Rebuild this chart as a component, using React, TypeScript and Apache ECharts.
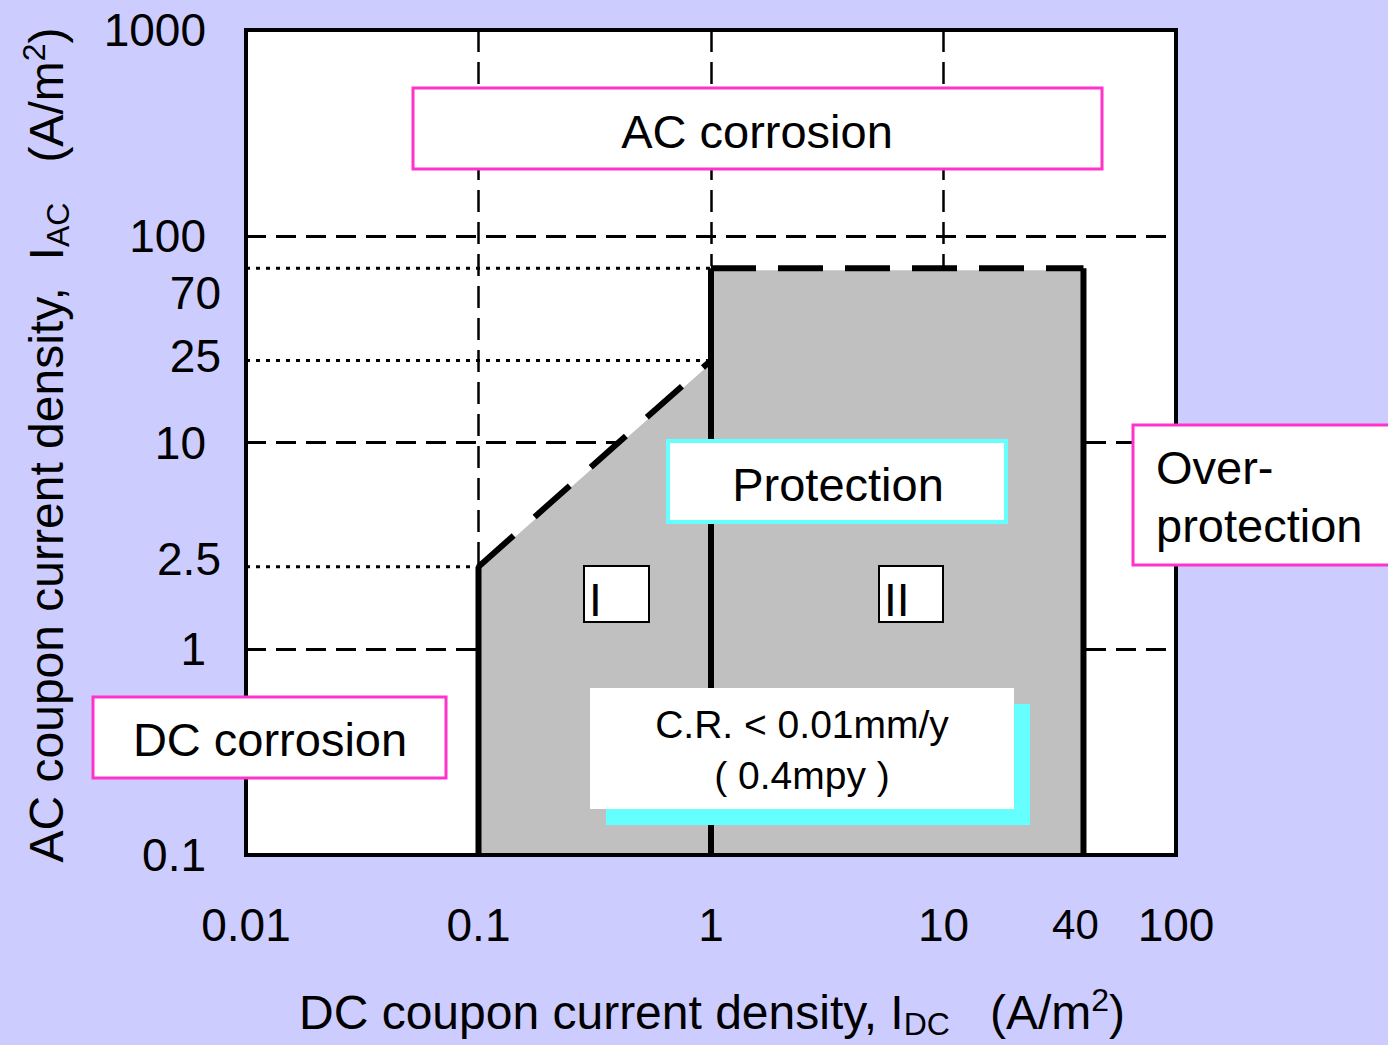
import React, { useEffect, useRef } from 'react';
import * as echarts from 'echarts';

// Axis ranges and tick labels
const xRange = [0.01, 100];
const yRange = [0.1, 1000];
const xExtraTicks = [40];
const yExtraTicks = [70, 25, 2.5];

// Protection regions (DC density, AC density)
const regionI = [[0.1, 0.1], [0.1, 2.5], [1, 25], [1, 0.1]];
const regionII = [[1, 0.1], [1, 70], [40, 70], [40, 0.1]];

// Region boundaries
const solidEdges = [
  [[0.1, 0.1], [0.1, 2.5]],
  [[1, 0.1], [1, 70]],
  [[40, 0.1], [40, 70]],
];
const diagonalEdge = [[0.1, 2.5], [1, 25]];
const topEdge = [[1, 70], [40, 70]];

// Dotted reference lines
const dottedRefs = [
  [[0.01, 70], [1, 70]],
  [[0.01, 25], [1, 25]],
  [[0.01, 2.5], [0.1, 2.5]],
];

const FONT = '"Liberation Sans", Arial, Helvetica, sans-serif';

const fmt = (v: number) => String(+(+v).toPrecision(6));

export default function App() {
  const ref = useRef<HTMLDivElement>(null);
  useEffect(() => {
    if (!ref.current) return;
    const chart = echarts.init(ref.current, null, { renderer: 'svg' });
    const regions = [regionI, regionII];

    const lineSeries = (data: number[][], width: number, type: any, z = 3) => ({
      type: 'line',
      data,
      symbol: 'none',
      silent: true,
      clip: false,
      z,
      lineStyle: { color: '#000', width, type, cap: 'butt' },
    });

    const yExtraOffsets: Record<string, number[]> = { '70': [0, 25], '25': [0, -4], '2.5': [0, -8] };

    const titleRich = {
      n: { fontSize: 48, fontFamily: FONT, color: '#000', lineHeight: 56 },
      sub: { fontSize: 32, fontFamily: FONT, color: '#000', lineHeight: 30, verticalAlign: 'bottom' },
      sup: { fontSize: 32, fontFamily: FONT, color: '#000', lineHeight: 30, verticalAlign: 'top' },
    };

    const option: any = {
      animation: false,
      backgroundColor: '#CCCCFF',
      grid: {
        left: 246,
        top: 30,
        width: 930,
        height: 825,
        show: true,
        backgroundColor: '#FFFFFF',
        borderWidth: 0,
      },
      xAxis: {
        type: 'log',
        logBase: 10,
        min: xRange[0],
        max: xRange[1],
        axisLine: { show: false },
        axisTick: { show: true, inside: true, length: 7, lineStyle: { color: '#000', width: 2 } },
        axisLabel: { fontSize: 46, color: '#000', fontFamily: FONT, margin: 47, formatter: fmt },
        splitLine: { show: true, lineStyle: { color: '#000', width: 2.5, type: [22, 10] } },
        minorTick: { show: false },
      },
      yAxis: {
        type: 'log',
        logBase: 10,
        min: yRange[0],
        max: yRange[1],
        axisLine: { show: false },
        axisTick: { show: true, inside: true, length: 7, lineStyle: { color: '#000', width: 2 } },
        axisLabel: { fontSize: 46, color: '#000', fontFamily: FONT, margin: 40, formatter: fmt },
        splitLine: { show: true, lineStyle: { color: '#000', width: 3, type: [20, 10] } },
      },
      series: [
        ...dottedRefs.map((d) => lineSeries(d, 3, [4, 6], 2)),
        {
          type: 'custom',
          silent: true,
          z: 2,
          clip: false,
          encode: { x: 0, y: 1 },
          data: regions.map((_, i) => [1, 1, i]),
          renderItem: (params: any, api: any) => {
            const idx = api.value(2);
            const pts = regions[idx].map((p) => api.coord(p));
            return {
              type: 'polygon',
              shape: { points: pts },
              style: { fill: '#C0C0C0', stroke: '#FFFFFF', lineWidth: 4 },
            };
          },
        },
        ...solidEdges.map((d) => lineSeries(d, 6, 'solid')),
        lineSeries(diagonalEdge, 6, [47, 28]),
        lineSeries(topEdge, 6, [45, 22]),
        {
          type: 'scatter',
          silent: true,
          clip: false,
          symbolSize: 0.01,
          itemStyle: { color: '#000', opacity: 1 },
          data: yExtraTicks.map((v) => ({
            value: [xRange[0], v],
            label: { offset: yExtraOffsets[String(v)] },
          })),
          label: {
            show: true,
            position: 'left',
            distance: 25,
            fontSize: 46,
            color: '#000',
            opacity: 1,
            fontFamily: FONT,
            formatter: (p: any) => fmt(p.value[1]),
          },
        },
        {
          type: 'scatter',
          silent: true,
          clip: false,
          symbolSize: 0.01,
          itemStyle: { color: '#000', opacity: 1 },
          data: xExtraTicks.map((v) => ({ value: [v, yRange[0]] })),
          label: {
            show: true,
            position: 'bottom',
            distance: 48,
            offset: [-8, 0],
            fontSize: 42,
            color: '#000',
            opacity: 1,
            fontFamily: FONT,
            formatter: (p: any) => fmt(p.value[0]),
          },
        },
      ],
      graphic: [
        // plot frame
        {
          type: 'rect',
          z: 50,
          silent: true,
          shape: { x: 246, y: 30, width: 930, height: 825 },
          style: { fill: 'none', stroke: '#000', lineWidth: 4 },
        },
        // AC corrosion
        {
          type: 'rect', z: 60,
          shape: { x: 413, y: 88, width: 689, height: 81 },
          style: { fill: '#FFFFFF', stroke: '#FF33CC', lineWidth: 3 },
        },
        {
          type: 'text', z: 61, x: 757, y: 131,
          style: { text: 'AC corrosion', fontSize: 47, fontFamily: FONT, fill: '#000', align: 'center', verticalAlign: 'middle' },
        },
        // Over-protection
        {
          type: 'rect', z: 60,
          shape: { x: 1133, y: 425, width: 270, height: 140 },
          style: { fill: '#FFFFFF', stroke: '#FF33CC', lineWidth: 3 },
        },
        {
          type: 'text', z: 61, x: 1156, y: 496,
          style: { text: 'Over-\nprotection', fontSize: 47, lineHeight: 58, fontFamily: FONT, fill: '#000', align: 'left', verticalAlign: 'middle' },
        },
        // DC corrosion
        {
          type: 'rect', z: 60,
          shape: { x: 93, y: 697, width: 353, height: 81 },
          style: { fill: '#FFFFFF', stroke: '#FF33CC', lineWidth: 3 },
        },
        {
          type: 'text', z: 61, x: 270, y: 739,
          style: { text: 'DC corrosion', fontSize: 47, fontFamily: FONT, fill: '#000', align: 'center', verticalAlign: 'middle' },
        },
        // Protection
        {
          type: 'rect', z: 60,
          shape: { x: 668, y: 441, width: 338, height: 81 },
          style: { fill: '#FFFFFF', stroke: '#66FFFF', lineWidth: 4 },
        },
        {
          type: 'text', z: 61, x: 838, y: 484,
          style: { text: 'Protection', fontSize: 47, fontFamily: FONT, fill: '#000', align: 'center', verticalAlign: 'middle' },
        },
        // C.R. box with cyan shadow
        {
          type: 'rect', z: 60,
          shape: { x: 606, y: 704, width: 424, height: 121 },
          style: { fill: '#66FFFF' },
        },
        {
          type: 'rect', z: 61,
          shape: { x: 590, y: 688, width: 424, height: 121 },
          style: { fill: '#FFFFFF' },
        },
        {
          type: 'text', z: 62, x: 802, y: 750,
          style: { text: 'C.R. < 0.01mm/y\n( 0.4mpy )', fontSize: 39, lineHeight: 51, fontFamily: FONT, fill: '#000', align: 'center', verticalAlign: 'middle' },
        },
        // region labels
        {
          type: 'rect', z: 60,
          shape: { x: 584, y: 566, width: 65, height: 56 },
          style: { fill: '#FFFFFF', stroke: '#000', lineWidth: 2 },
        },
        {
          type: 'text', z: 61, x: 589, y: 600,
          style: { text: 'I', fontSize: 46, fontFamily: FONT, fill: '#000', align: 'left', verticalAlign: 'middle' },
        },
        {
          type: 'rect', z: 60,
          shape: { x: 879, y: 566, width: 64, height: 56 },
          style: { fill: '#FFFFFF', stroke: '#000', lineWidth: 2 },
        },
        {
          type: 'text', z: 61, x: 884, y: 600,
          style: { text: 'II', fontSize: 46, fontFamily: FONT, fill: '#000', align: 'left', verticalAlign: 'middle' },
        },
        // Axis titles
        {
          type: 'text', z: 61, x: 712, y: 1012,
          style: {
            text: '{n|DC coupon current density, I}{sub|DC}{n|   (A/m}{sup|2}{n|)}',
            align: 'center', verticalAlign: 'middle', fill: '#000', fontFamily: FONT, fontSize: 48,
            rich: titleRich,
          },
        },
        {
          type: 'text', z: 61, x: 46, y: 445, rotation: Math.PI / 2,
          style: {
            text: '{n|AC coupon current density,  I}{sub|AC}{n|   (A/m}{sup|2}{n|)}',
            align: 'center', verticalAlign: 'middle', fill: '#000', fontFamily: FONT, fontSize: 48,
            rich: titleRich,
          },
        },
      ],
    };
    chart.setOption(option);
    return () => chart.dispose();
  }, []);
  return (
    <div
      ref={ref}
      style={{ position: 'fixed', left: 0, top: 0, width: 1388, height: 1045 }}
    />
  );
}
